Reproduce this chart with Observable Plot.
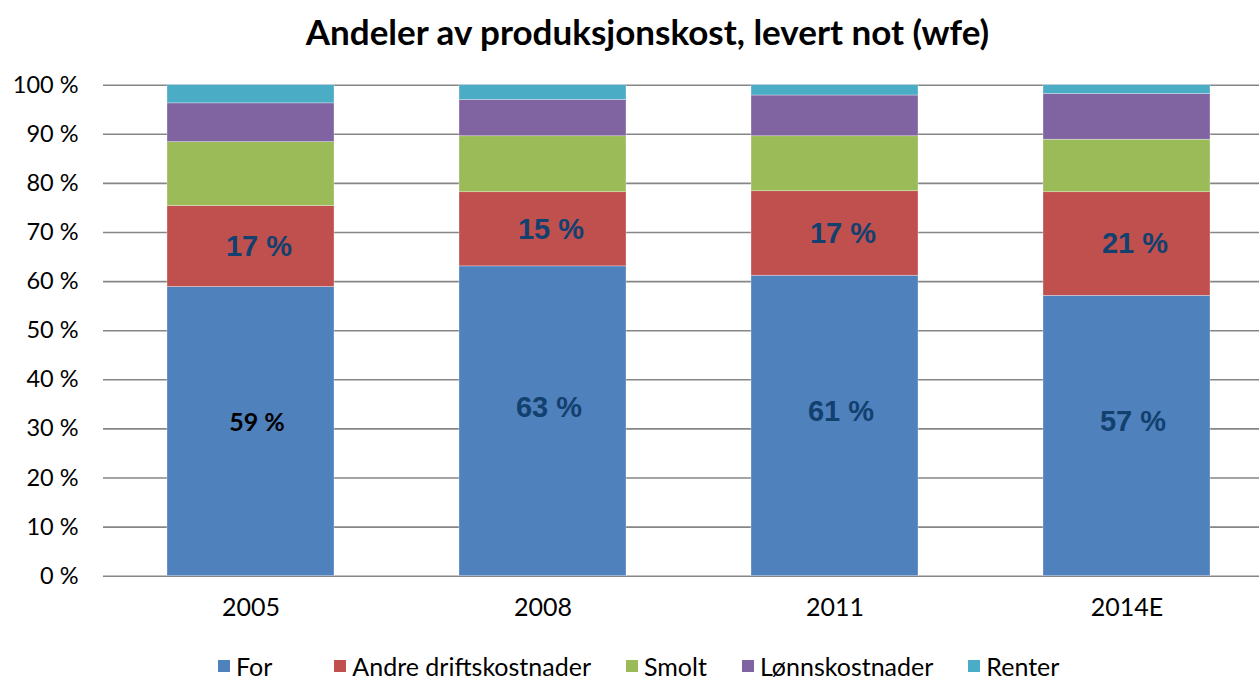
<!DOCTYPE html>
<html>
<head>
<meta charset="utf-8">
<script src="https://cdn.jsdelivr.net/npm/d3@7"></script>
<script src="https://cdn.jsdelivr.net/npm/@observablehq/plot@0.6"></script>
<style>
  html, body { margin: 0; padding: 0; background: #fff; width: 1259px; height: 679px; overflow: hidden; }
  #title { height: 62px; line-height: 62px; text-align: center; font-family: Lato, sans-serif; font-weight: bold; font-size: 35px; color: #000; padding-left: 36px; box-sizing: border-box; }
  #chart svg { display: block; }
  #legend { display: flex; align-items: center; height: 25px; padding-top: 11px; padding-left: 218px; font-family: Lato, sans-serif; font-size: 25px; color: #000; }
  .item { display: flex; align-items: center; margin-right: 35px; }
  .item:first-child { margin-right: 62px; }
  .sw { width: 12px; height: 12px; margin-right: 6px; }
</style>
</head>
<body>
<div id="title">Andeler av produksjonskost, levert not (wfe)</div>
<div id="chart"></div>
<div id="legend"></div>
<script>
const years = ["2005", "2008", "2011", "2014E"];
const series = ["For", "Andre driftskostnader", "Smolt", "Lønnskostnader", "Renter"];
const forVals = [58.9, 63.1, 61.2, 57.1];
const andreVals = [16.5, 15.1, 17.2, 21.1];
const smoltVals = [13.0, 11.4, 11.2, 10.7];
const lonnVals = [7.9, 7.4, 8.3, 9.3];
const renterVals = [3.7, 3.0, 2.1, 1.8];
const colors = ["#4F81BD", "#C0504D", "#9BBB59", "#8064A2", "#4BACC6"];
const yTicks = [0, 10, 20, 30, 40, 50, 60, 70, 80, 90, 100];

const valueLists = [forVals, andreVals, smoltVals, lonnVals, renterVals];
const data = [];
years.forEach((year, i) => {
  series.forEach((s, j) => {
    data.push({year, series: s, value: valueLists[j][i]});
  });
});

const pct = d => Math.round(d.value) + " %";

const chart = Plot.plot({
  width: 1259,
  height: 580,
  marginTop: 23,
  marginBottom: 66,
  marginLeft: 103,
  marginRight: 0,
  x: {domain: years, range: [103, 1273], paddingInner: 0.429, paddingOuter: 0.2145},
  y: {domain: [0, 100], range: [513.7, 22.7]},
  color: {domain: series, range: colors},
  style: {fontFamily: "Lato, sans-serif", fontSize: "22px", color: "#000", background: "#fff", overflow: "visible"},
  marks: [
    Plot.ruleY(yTicks, {y: d => d, stroke: "#868686", strokeWidth: 1.6}),
    Plot.barY(data, {x: "year", y: "value", fill: "series", order: series, stroke: "#fff", strokeOpacity: 0.5, strokeWidth: 0.6}),
    Plot.text(data, Plot.stackY({
      x: "year", y: "value", z: "series", order: series,
      text: d => d.series === "Andre driftskostnader" ? pct(d) : "",
      fill: "#12406F", fontFamily: "Liberation Sans, Arial, sans-serif", fontWeight: "bold", fontSize: 29, dx: 8
    })),
    Plot.text(data, Plot.stackY({
      x: "year", y: "value", z: "series", order: series,
      text: d => (d.series === "For" && d.year !== "2005") ? pct(d) : "",
      fill: "#12406F", fontFamily: "Liberation Sans, Arial, sans-serif", fontWeight: "bold", fontSize: 29, dx: 6, dy: -14
    })),
    Plot.text(data, Plot.stackY({
      x: "year", y: "value", z: "series", order: series,
      text: d => (d.series === "For" && d.year === "2005") ? pct(d) : "",
      fill: "#000", fontFamily: "Lato, sans-serif", fontWeight: "bold", fontSize: 25, dx: 6, dy: -9
    })),
    Plot.axisY(yTicks, {tickSize: 0, tickPadding: 25, tickFormat: d => d + " %", label: null, fontSize: 23.5, fill: "#000"}),
    Plot.axisX({tickSize: 0, tickPadding: 22, label: null, fontSize: 25, fill: "#000"})
  ]
});
document.getElementById("chart").appendChild(chart);

const legend = document.getElementById("legend");
series.forEach((s, i) => {
  const item = document.createElement("div");
  item.className = "item";
  const sw = document.createElement("div");
  sw.className = "sw";
  sw.style.background = colors[i];
  const label = document.createElement("span");
  label.textContent = s;
  item.appendChild(sw);
  item.appendChild(label);
  legend.appendChild(item);
});
</script>
</body>
</html>
